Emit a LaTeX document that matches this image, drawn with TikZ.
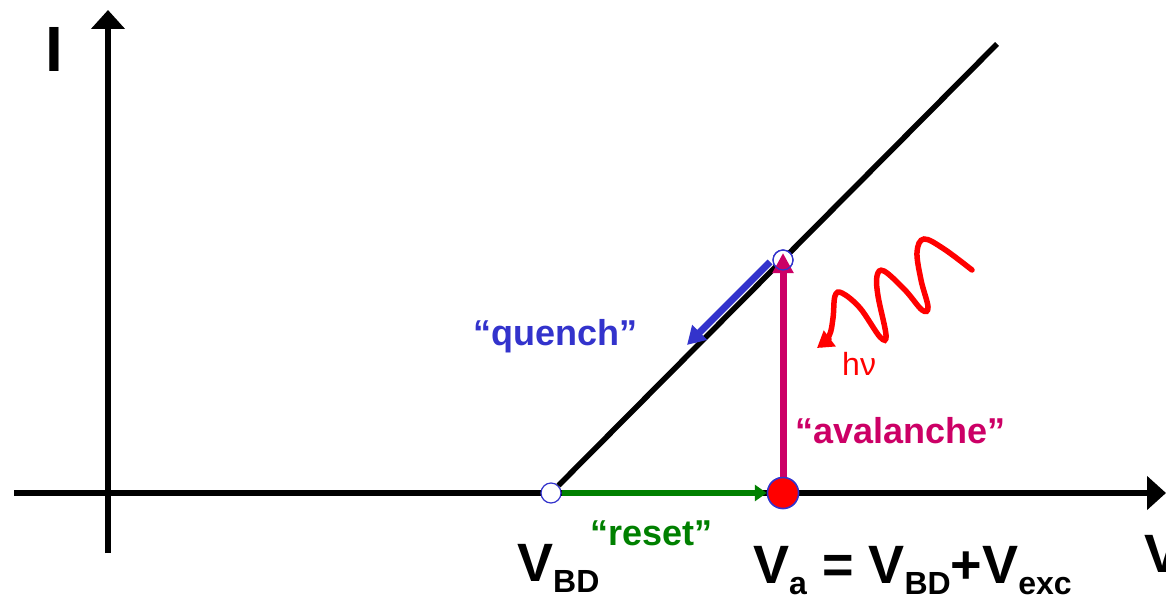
\documentclass[tikz,border=0pt]{standalone}
\usepackage{fontspec}
\setmainfont{Liberation Sans}
\usepackage{tikz}
\usetikzlibrary{arrows.meta, calc}
\definecolor{quenchblue}{RGB}{51, 51, 204}
\definecolor{avalanchemag}{RGB}{204, 0, 102}
\definecolor{resetgreen}{RGB}{0, 128, 0}
\definecolor{photonred}{RGB}{255, 0, 0}
\newcommand{\bigtxt}{\fontsize{54}{58}\selectfont\bfseries}
\newcommand{\midtxt}{\fontsize{36}{40}\selectfont\bfseries}
\newcommand{\lowidx}[1]{\raisebox{-11pt}{\fontsize{32}{34}\selectfont\bfseries #1}}

\begin{document}
\begin{tikzpicture}[x=1pt, y=1pt,
    axis/.style={black, line width=6pt, -{Triangle[length=19pt, width=33pt]}},
    opendot/.style={circle, draw=quenchblue, fill=white, line width=1.2pt, minimum size=20pt, inner sep=0pt},
    reddot/.style={circle, draw=quenchblue, fill=photonred, line width=1.5pt, minimum size=31pt, inner sep=0pt}]
    \useasboundingbox (0,0) rectangle (1166,598);
    % === axes ===
    \coordinate (xstart) at (14,105);
    \coordinate (xend) at (1166,105);
    \coordinate (ystart) at (108,45);
    \coordinate (yend) at (108,588);
    \draw[axis] (xstart) -- (xend);
    \draw[axis] (ystart) -- (yend);
    \node[font=\fontsize{64}{68}\selectfont\bfseries] (ilabel) at (54,549) {I};
    \node[font=\bigtxt, anchor=base west] (vlabel) at (1141,26) {V};
    % === characteristic ===
    \coordinate (lineend) at (997,554);
    \node[opendot] (bd) at (551,105) {};
    \draw[black, line width=5.5pt] (bd) -- (lineend);
    \node[opendot] (top) at (783,338) {};
    \node[reddot] (va) at (783,105) {};
    % reset / avalanche / quench
    \draw[resetgreen, line width=6pt, -{Triangle[length=12pt, width=16pt]}] (bd.east) -- (va.west);
    \draw[avalanchemag, line width=7pt, -{Triangle[length=20pt, width=20pt]}] (va.north) -- ($(top.center)+(0,7)$);
    \draw[quenchblue, line width=7pt, -{Triangle[length=18pt, width=20pt]}] ($(top)+(-13,-2)$) -- ($(top)+(-96,-85)$);
    \node[opendot, fill=none] at (top) {};
    \node[reddot] at (va) {};
    % photon
    \draw[photonred, line width=5.5pt, line cap=round, -{Triangle[length=16pt, width=19pt]}]
        plot[smooth, tension=0.6] coordinates {(972,328) (944,349) (924,359) (917,346) (921,318) (928,291) (922,288) (905,308) (884,327) (877,322) (878,302) (886,263) (880,261) (860,290) (842,305) (835,302) (833,280) (829,262) (817,250)};
    % === labels ===
    \node[font=\midtxt, quenchblue, anchor=base west, inner sep=0pt] (quench) at (473,253) {“quench”};
    \node[font=\midtxt, avalanchemag, anchor=base west, inner sep=0pt] (aval) at (795,155) {“avalanche”};
    \node[font=\midtxt, resetgreen, anchor=base west, inner sep=0pt] (reset) at (590,53) {“reset”};
    \node[font=\fontsize{32}{34}\selectfont, photonred, anchor=base west, inner sep=0pt] (hnu) at (842,223) {hν};
    \node[font=\bigtxt, anchor=base west, inner sep=0pt] (vbd) at (517,17) {V\lowidx{BD}};
    \node[font=\bigtxt, anchor=base west, inner sep=0pt] (vaeq) at (753,15) {V\lowidx{a} = V\lowidx{BD}+V\lowidx{exc}};
\end{tikzpicture}
\end{document}
